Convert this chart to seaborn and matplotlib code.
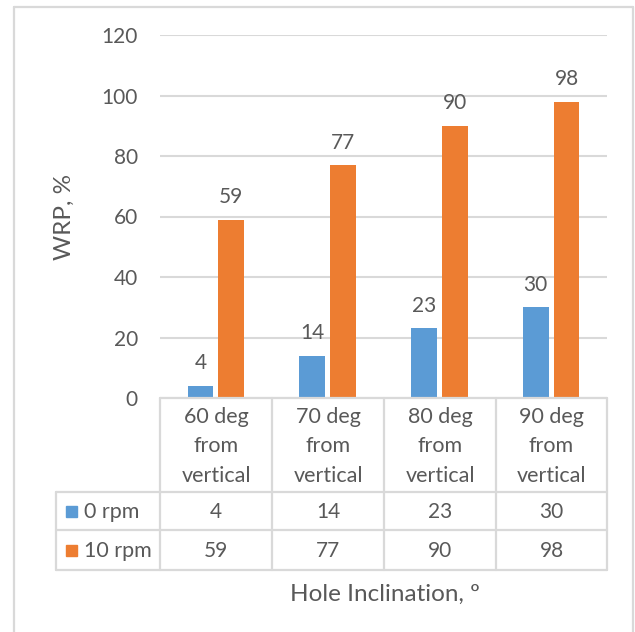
import matplotlib
matplotlib.use("Agg")
import matplotlib.pyplot as plt
from matplotlib.lines import Line2D
from matplotlib.patches import Rectangle
import seaborn as sns
import pandas as pd

categories = ["60 deg\nfrom\nvertical", "70 deg\nfrom\nvertical", "80 deg\nfrom\nvertical", "90 deg\nfrom\nvertical"]
series_names = ["0 rpm", "10 rpm"]
rpm0 = [4, 14, 23, 30]
rpm10 = [59, 77, 90, 98]
y_ticks = [0, 20, 40, 60, 80, 100, 120]
y_label = "WRP, %"
x_label = "Hole Inclination, º"
colors = ["#5B9BD5", "#ED7D31"]

W, H = 635, 632
TXT = "#595959"
GRID = "#D9D9D9"
FONT = "Lato"

sns.set_theme(style="white")
plt.rcParams["font.family"] = [FONT, "DejaVu Sans"]

df = pd.DataFrame({
    "cat": categories * 2,
    "series": [series_names[0]] * 4 + [series_names[1]] * 4,
    "value": rpm0 + rpm10,
})

fig = plt.figure(figsize=(W / 100, H / 100), dpi=100)
fig.patch.set_facecolor("white")

def fx(x):
    return x / W

def fy(y):
    return 1 - y / H

# plot area in pixel coordinates
L, R, T, B = 160, 607, 35, 398
ax = fig.add_axes([fx(L), fy(B), (R - L) / W, (B - T) / H])
sns.barplot(data=df, x="cat", y="value", hue="series", hue_order=series_names,
            palette=colors, width=0.55, gap=0.155, linewidth=0, saturation=1,
            legend=False, ax=ax, order=categories)
ax.set_xlim(-0.5, len(categories) - 0.5)
ax.set_ylim(0, 120)
ax.set_yticks(y_ticks)
ax.set_yticklabels([str(v) for v in y_ticks], color=TXT, fontsize=15)
ax.tick_params(axis="y", length=0, pad=16)
ax.set_xticks([])
ax.set_xlabel("")
ax.set_ylabel("")
for s in ax.spines.values():
    s.set_visible(False)
ax.yaxis.grid(True, color=GRID, linewidth=1.5)
ax.set_axisbelow(True)

for cont in ax.containers:
    ax.bar_label(cont, fmt="%g", padding=9, color=TXT, fontsize=15)

def hline(x0, x1, y):
    fig.add_artist(Line2D([fx(x0), fx(x1)], [fy(y), fy(y)], color=GRID, lw=1.6))

def vline(x, y0, y1):
    fig.add_artist(Line2D([fx(x), fx(x)], [fy(y0), fy(y1)], color=GRID, lw=1.6))

# table
cols = [160, 272, 384, 496, 607]
rows = [398, 492, 530, 570]
hline(160, 607, 398)
for y in rows[1:]:
    hline(56, 607, y)
for x in cols:
    vline(x, 398, 570)
vline(56, 492, 570)

for i, c in enumerate(categories):
    cx = (cols[i] + cols[i + 1]) / 2
    for j, line in enumerate(c.split("\n")):
        fig.text(fx(cx), fy(417 + j * 29.5), line, ha="center", va="center",
                 color=TXT, fontsize=15.5)

series_vals = [rpm0, rpm10]
for r, name in enumerate(series_names):
    cy = (rows[r + 1] + rows[r + 2]) / 2 + 1
    fig.add_artist(Rectangle((fx(66), fy(cy + 5)), 11 / W, 11 / H,
                             color=colors[r], transform=fig.transFigure))
    fig.text(fx(84), fy(cy), name, ha="left", va="center", color=TXT, fontsize=15.5)
    for i, v in enumerate(series_vals[r]):
        cx = (cols[i] + cols[i + 1]) / 2
        fig.text(fx(cx), fy(cy), str(v), ha="center", va="center", color=TXT, fontsize=15)

fig.text(fx(64), fy(217), y_label, rotation=90, ha="center", va="center",
         color=TXT, fontsize=17.5)
fig.text(fx(385), fy(594), x_label, ha="center", va="center", color=TXT, fontsize=17.5)

# outer chart border
hline(14, 633, 7)
vline(14, 7, 640)
vline(633, 7, 640)

fig.savefig("out.png", dpi=100, facecolor="white")
